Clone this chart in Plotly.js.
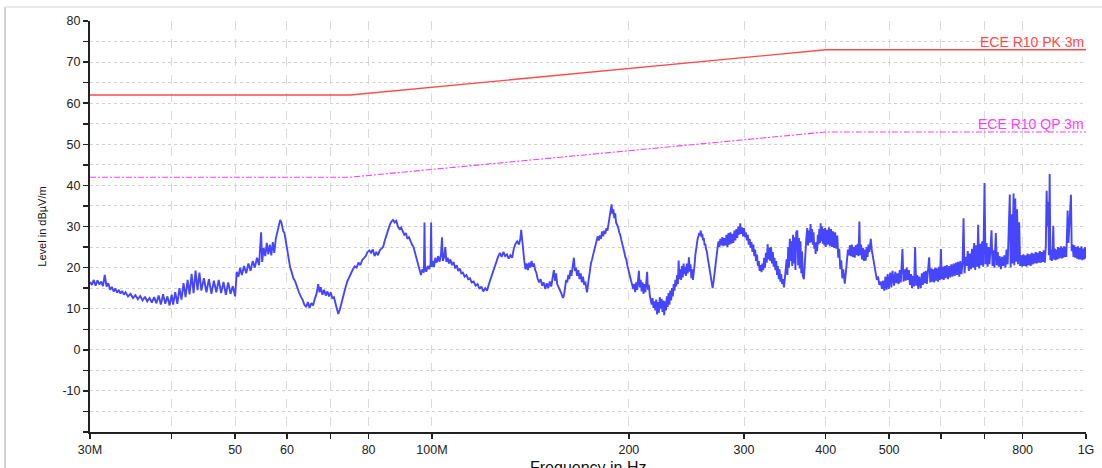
<!DOCTYPE html>
<html>
<head>
<meta charset="utf-8">
<script src="https://cdn.plot.ly/plotly-3.0.1.min.js"></script>
<style>
  html, body { margin: 0; padding: 0; background: #fff; }
  #chart { width: 1102px; height: 468px; }
</style>
</head>
<body>
<div id="chart"></div>
<script>
// ---- Data (frequency in MHz, level in dBµV/m) ----
const measFreqMHz = [
  30.0, 30.2, 30.4, 30.6, 30.8, 31.0, 31.2, 31.4, 31.6, 31.8,
  32.0, 32.2, 32.4, 32.6, 32.8, 33.0, 33.2, 33.4, 33.6, 33.8,
  34.0, 34.3, 34.6, 34.9, 35.2, 35.5, 35.8, 36.1, 36.4, 36.7,
  37.0, 37.3, 37.6, 37.9, 38.2, 38.5, 38.8, 39.1, 39.4, 39.7,
  40.0, 40.2, 40.5, 40.8, 41.1, 41.4, 41.7, 42.0, 42.3, 42.6,
  42.9, 43.2, 43.5, 43.8, 44.1, 44.4, 44.8, 45.2, 45.6, 46.0,
  46.4, 46.8, 47.2, 47.6, 48.0, 48.4, 48.8, 49.2, 49.6, 50.0,
  50.3, 50.6, 50.9, 51.2, 51.6, 52.0, 52.4, 52.8, 53.2, 53.6,
  54.0, 54.4, 54.8, 55.0, 55.3, 55.6, 55.9, 56.2, 56.5, 56.8,
  57.1, 57.4, 57.7, 58.0, 58.3, 58.6, 58.9, 59.2, 59.5, 59.8,
  60.1, 60.4, 60.7, 61.0, 61.4, 61.8, 62.2, 62.6, 63.0, 63.4,
  63.8, 64.2, 64.6, 65.0, 65.4, 65.8, 66.2, 66.6, 67.0, 67.3,
  67.6, 68.0, 68.4, 68.8, 69.2, 69.6, 70.0, 70.4, 70.8, 71.2,
  71.6, 71.9, 72.3, 72.7, 73.2, 73.7, 74.2, 74.7, 75.2, 75.7,
  76.2, 76.7, 77.2, 77.7, 78.2, 78.7, 79.2, 79.7, 80.2, 80.7,
  81.2, 81.7, 82.2, 82.7, 83.2, 83.7, 84.2, 84.7, 85.2, 85.7,
  86.2, 86.7, 87.2, 87.7, 88.2, 88.7, 89.2, 89.7, 90.2, 90.7,
  91.2, 91.7, 92.2, 92.7, 93.2, 93.7, 94.2, 94.7, 95.2, 95.7,
  96.2, 96.7, 97.2, 97.4, 97.6, 98.0, 98.5, 99.0, 99.5, 99.7,
  99.9, 100.3, 100.7, 101.2, 101.7, 102.2, 102.7, 103.2, 103.6, 103.9,
  104.4, 104.8, 105.2, 105.7, 106.2, 106.7, 107.3, 107.9, 108.5, 109.1,
  109.7, 110.3, 110.9, 111.5, 112.2, 112.9, 113.6, 114.3, 115.0, 115.8,
  116.6, 117.4, 118.2, 119.0, 119.8, 120.6, 121.4, 122.2, 123.0, 123.8,
  124.6, 125.4, 126.2, 127.0, 127.8, 128.6, 129.4, 130.2, 131.0, 131.8,
  132.6, 133.4, 134.2, 135.0, 135.8, 136.5, 136.9, 137.3, 137.8, 138.4,
  139.0, 139.6, 140.2, 140.8, 141.4, 142.0, 142.6, 143.2, 143.8, 144.4,
  145.0, 145.8, 146.6, 147.4, 148.2, 149.0, 149.8, 150.6, 151.4, 152.2,
  153.0, 153.6, 154.2, 154.8, 155.4, 156.2, 157.0, 157.8, 158.6, 159.2,
  159.8, 160.4, 161.0, 161.6, 162.2, 162.8, 163.4, 164.0, 164.8, 165.4,
  166.0, 166.7, 167.4, 168.1, 168.8, 169.5, 170.2, 170.9, 171.6, 172.3,
  172.6, 173.2, 173.8, 174.4, 175.0, 175.7, 176.4, 177.1, 177.8, 178.5,
  179.2, 179.9, 180.6, 181.3, 182.0, 182.7, 183.4, 184.1, 184.8, 185.5,
  186.2, 186.9, 187.6, 188.2, 188.8, 189.4, 190.0, 190.6, 191.2, 191.9,
  192.6, 193.3, 194.0, 194.7, 195.4, 196.1, 196.8, 197.5, 198.2, 198.9,
  199.6, 200.3, 201.0, 201.7, 202.4, 203.1, 203.8, 204.5, 205.2, 205.9,
  206.6, 207.2, 207.8, 208.5, 209.2, 209.9, 210.6, 211.3, 212.0, 212.7,
  213.3, 213.9, 214.6, 215.3, 216.0, 216.7, 217.4, 218.1, 218.8, 219.5,
  220.2, 220.9, 221.6, 222.3, 223.0, 223.7, 224.4, 225.1, 225.8, 226.5,
  227.2, 227.9, 228.6, 229.3, 230.0, 230.7, 231.4, 232.1, 232.8, 233.5,
  234.2, 234.9, 235.6, 236.3, 237.0, 237.7, 238.3, 239.0, 239.7, 240.4,
  241.1, 241.8, 242.5, 243.2, 243.9, 244.6, 245.3, 246.0, 246.7, 247.1,
  247.8, 248.5, 249.2, 249.9, 250.6, 251.3, 252.0, 252.7, 253.4, 254.1,
  254.8, 255.5, 256.2, 256.9, 257.6, 258.3, 259.0, 259.7, 260.4, 261.1,
  261.8, 262.5, 263.2, 264.0, 264.8, 265.6, 266.4, 267.2, 268.0, 268.6,
  269.4, 270.2, 271.0, 271.8, 272.6, 273.4, 274.2, 275.0, 276.0, 277.0,
  278, 279, 280, 281, 282, 283, 284, 285, 286, 287,
  288, 289, 290, 291, 292, 293, 294, 295, 296, 297,
  298, 299, 300, 301, 302, 303, 304, 305, 306, 307,
  308, 309, 310, 311, 312, 313, 314, 315, 316, 317,
  318, 319, 320, 321, 322, 323, 324, 325, 326, 327,
  328, 329, 330, 331, 332, 333, 334, 335, 336, 337,
  338, 339, 340, 341, 342, 343, 344, 345.3, 346.5, 347.5,
  348.5, 349.5, 350.5, 351.5, 352.5, 353.5, 354.5, 355.5, 356.5, 357.5,
  358.5, 359.5, 360.5, 361.9, 363, 364, 365, 366, 367, 368,
  369, 370.4, 371.5, 372.5, 373.5, 374.8, 375.8, 376.8, 377.8, 379.2,
  380.2, 381.2, 382.2, 383.2, 384.2, 385.2, 386, 387, 388, 389,
  390, 391, 392, 392.9, 394, 395, 396, 397, 398, 399,
  400, 401.5, 403, 404.5, 406, 407.5, 409, 410.5, 412, 413.5,
  415, 416.6, 418, 419.5, 421, 422.5, 424, 425.5, 427.7, 429.5,
  431, 432.5, 434, 435.5, 437, 438.5, 440, 441.5, 443, 444.5,
  446, 447.5, 449, 450.3, 451.5, 453, 454.5, 456, 457.5, 459,
  460.4, 462, 463.5, 465, 466.5, 468.7, 470.5, 472, 473.5, 475,
  477, 479, 481, 483, 485.5, 487.5, 489.5, 491.5, 493.5, 495.5,
  497.5, 499.5, 502, 504, 506, 508.8, 511, 513, 515, 517,
  519, 521, 524, 526, 528, 530, 532, 534, 536, 538,
  540, 542, 544, 546, 547.9, 550, 552, 554, 556, 558.9,
  561, 563, 565, 567, 569, 571, 573, 575.7, 578, 580,
  582, 584, 586, 588, 590, 592, 594, 596, 598, 600,
  602, 604, 606, 608, 610, 612.5, 615, 617.5, 620, 622.5,
  625, 627.5, 630, 632.5, 635, 637.5, 640, 642.5, 645, 647.5,
  649.8, 652, 654.5, 657, 659.5, 662, 664.5, 667, 669.5, 672,
  674.5, 677, 679.5, 682, 684.1, 686.5, 689, 691.5, 694, 696.5,
  699.6, 702, 704.5, 707, 709.5, 712, 714.5, 717, 719.5, 722,
  724.5, 728, 730.5, 733, 735.5, 738, 741, 744, 747, 750,
  753, 756, 759, 762, 764.7, 767, 769.5, 772, 774.8, 777,
  779.5, 782, 784.5, 787, 790.4, 793, 796, 799, 802, 805,
  808, 811, 814, 817, 820, 823, 826, 829, 832, 835,
  838, 841, 844, 847, 850, 853, 856, 859, 862, 865,
  868, 870.6, 873, 875.5, 877.5, 879.9, 882, 884.5, 887, 889,
  891.3, 893.5, 896, 898.5, 901, 903.5, 906, 908.5, 911, 913.5,
  915.6, 918, 920.5, 923, 925.5, 928, 930.5, 933, 935.5, 937.4,
  940, 943, 945.5, 948.4, 951, 954, 957, 960, 963, 966,
  969, 972, 975, 978, 981, 984, 987, 990, 993, 996,
  1000
];
const measLevel = [
  16.5, 15.8, 17.0, 15.6, 16.9, 15.9, 16.6, 15.5, 18.2, 15.4,
  16.2, 14.6, 15.3, 14.2, 14.9, 13.9, 14.6, 13.7, 14.3, 13.4,
  14.0, 13.0, 13.6, 12.6, 13.3, 12.3, 13.1, 12.0, 12.9, 11.8,
  12.6, 11.5, 12.8, 11.3, 13.2, 11.0, 13.5, 11.2, 13.0, 10.8,
  13.4, 11.0, 14.0, 11.2, 15.0, 12.2, 16.2, 12.8, 17.0, 13.5,
  18.5, 13.8, 19.3, 14.5, 18.8, 14.4, 17.4, 14.0, 17.2, 13.6,
  16.8, 14.0, 17.0, 13.8, 16.5, 13.4, 16.4, 13.6, 15.5, 13.0,
  19.0, 17.8, 20.0, 18.2, 20.4, 18.6, 21.0, 19.2, 21.6, 20.0,
  22.4, 20.6, 28.6, 21.4, 24.8, 22.8, 26.0, 23.2, 25.6, 23.0,
  26.2, 23.6, 27.0, 28.5, 30.2, 31.6, 30.8, 29.0, 28.4, 26.0,
  24.0, 22.5, 20.0, 19.0, 17.4, 16.6, 15.0, 14.0, 13.0, 12.2,
  11.0, 10.4, 11.6, 10.2, 11.4, 10.8, 12.4, 13.6, 16.0, 14.0,
  15.2, 13.4, 14.6, 13.2, 14.2, 13.0, 14.0, 12.6, 12.8, 11.0,
  9.6, 8.7, 9.8, 11.5, 13.5, 15.0, 16.6, 17.6, 18.8, 19.6,
  20.3, 20.0, 21.2, 20.6, 21.8, 22.2, 22.8, 23.8, 24.2, 23.6,
  24.4, 22.8, 23.8, 23.0, 24.2, 24.6, 25.0, 26.6, 28.0, 29.6,
  30.4, 31.2, 31.6, 31.0, 31.4, 30.0, 29.4, 29.8, 28.6, 28.0,
  28.4, 27.0, 27.4, 26.2, 25.6, 25.0, 23.6, 22.0, 20.4, 19.2,
  18.2, 19.6, 18.8, 31.0, 19.8, 19.0, 20.4, 19.6, 20.8, 31.0,
  20.2, 21.6, 20.2, 22.4, 21.2, 22.8, 21.4, 23.0, 27.4, 21.6,
  22.6, 25.0, 21.4, 22.4, 21.0, 22.0, 20.6, 21.4, 19.8, 20.6,
  19.2, 19.8, 18.6, 18.8, 17.8, 18.2, 17.2, 17.4, 16.4, 16.6,
  15.6, 16.0, 14.8, 15.4, 14.2, 15.0, 14.4, 16.0, 17.4, 19.0,
  20.2, 21.6, 22.6, 23.6, 22.6, 23.8, 22.8, 23.2, 22.2, 23.0,
  22.4, 24.6, 25.8, 26.4, 25.6, 27.0, 29.2, 27.2, 24.0, 21.6,
  19.6, 21.0, 19.4, 21.2, 20.0, 21.6, 20.2, 21.0, 19.4, 18.8,
  17.4, 16.4, 17.2, 15.6, 16.4, 14.8, 16.2, 15.0, 16.6, 15.4,
  17.8, 19.4, 16.8, 18.6, 16.0, 15.0, 14.4, 13.6, 12.6, 13.4,
  15.2, 17.0, 16.4, 18.2, 17.2, 19.4, 18.0, 20.6, 22.4, 19.2,
  20.0, 18.0, 19.4, 17.2, 18.6, 16.4, 17.8, 15.8, 16.6, 14.6,
  14.0, 15.8, 17.8, 19.6, 21.0, 22.0, 23.0, 24.2, 25.4, 26.4,
  27.6, 26.6, 27.8, 27.0, 28.8, 27.6, 29.0, 28.2, 29.6, 29.0,
  30.8, 32.0, 33.6, 35.4, 33.0, 34.2, 32.0, 33.2, 31.0, 30.4,
  29.8, 28.6, 28.0, 26.8, 26.0, 24.6, 23.8, 22.6, 22.0, 20.6,
  19.8, 18.6, 17.6, 16.6, 15.6, 14.8, 16.0, 14.0, 16.4, 14.6,
  17.0, 19.2, 15.2, 17.0, 14.2, 16.4, 13.6, 16.0, 14.0, 16.8,
  19.0, 14.6, 15.8, 13.2, 12.4, 11.0, 12.6, 10.2, 11.8, 9.6,
  12.2, 8.6, 11.6, 9.0, 12.8, 10.0, 12.4, 9.2, 12.0, 8.4,
  11.8, 9.6, 13.0, 10.4, 13.8, 11.0, 14.4, 12.0, 15.0, 13.0,
  16.0, 14.4, 17.0, 15.4, 18.2, 16.0, 21.7, 17.2, 19.6, 17.0,
  20.4, 17.6, 21.0, 18.4, 20.2, 18.0, 21.0, 18.6, 20.6, 22.5,
  19.0, 20.8, 17.4, 19.6, 17.0, 18.4, 20.4, 23.0, 24.6, 26.0,
  27.0, 27.6, 28.4, 27.8, 29.0, 27.4, 28.2, 26.6, 27.2, 25.4,
  25.8, 24.4, 24.0, 22.4, 21.4, 19.8, 18.6, 17.2, 16.0, 15.0,
  16.4, 18.4, 20.0, 22.0, 23.6, 25.0, 26.4, 25.0, 27.0, 25.4,
  27.4, 25.2, 27.2, 25.4, 28.0, 25.0, 28.4, 25.6, 28.6, 25.8,
  28.2, 26.0, 29.0, 26.6, 29.4, 27.2, 30.0, 28.0, 30.8, 28.2,
  29.8, 27.6, 29.6, 27.4, 28.6, 26.6, 28.0, 25.6, 27.0, 24.8,
  26.2, 23.8, 25.6, 22.8, 24.4, 21.6, 23.2, 20.4, 21.6, 19.2,
  20.6, 18.9, 21.0, 19.4, 22.4, 20.0, 23.6, 21.2, 25.7, 22.0,
  24.8, 21.6, 25.0, 21.0, 23.8, 20.2, 22.4, 19.4, 21.6, 18.2,
  20.4, 17.2, 19.6, 16.6, 18.4, 16.0, 17.2, 15.2, 17.6, 19.4,
  22.0, 18.2, 25.0, 20.0, 27.0, 21.6, 26.4, 20.4, 28.0, 21.0,
  27.4, 19.4, 28.6, 29.0, 20.6, 27.2, 19.8, 26.4, 18.6, 24.0,
  18.0, 17.2, 22.0, 25.4, 27.0, 29.6, 25.4, 29.0, 26.0, 30.6,
  26.2, 29.4, 25.6, 28.6, 24.6, 26.0, 23.3, 26.2, 24.0, 28.0,
  25.6, 29.4, 26.0, 30.8, 26.4, 30.0, 25.8, 29.4, 25.4, 29.6,
  25.0, 29.2, 25.6, 29.8, 25.2, 29.4, 25.0, 28.8, 24.8, 28.6,
  24.6, 27.8, 22.4, 24.6, 19.6, 21.8, 17.4, 19.6, 16.1, 19.0,
  22.0, 24.4, 23.0, 25.4, 22.8, 25.6, 22.6, 25.0, 22.4, 25.4,
  23.0, 25.8, 22.8, 31.2, 23.0, 25.6, 22.0, 24.8, 21.6, 24.4,
  21.7, 25.0, 22.6, 25.6, 23.8, 27.0, 24.2, 22.6, 21.0, 19.6,
  18.6, 17.0, 17.8, 15.8, 16.6, 14.8, 16.8, 14.4, 17.8, 14.6,
  18.4, 14.8, 18.8, 15.2, 19.2, 15.6, 19.0, 16.2, 18.6, 16.0,
  19.4, 16.4, 24.5, 16.6, 19.6, 16.8, 20.0, 17.0, 19.4, 15.8,
  18.4, 15.0, 18.0, 15.4, 25.0, 15.6, 18.2, 14.8, 17.8, 15.0,
  18.6, 15.8, 19.0, 16.2, 19.2, 16.0, 19.4, 22.5, 16.4, 19.8,
  16.6, 19.6, 16.4, 20.0, 16.8, 19.8, 16.6, 20.2, 17.0, 24.5,
  17.2, 20.2, 17.0, 20.4, 17.4, 20.6, 17.2, 20.4, 17.6, 20.8,
  17.8, 21.0, 18.0, 21.2, 18.2, 21.4, 17.8, 21.6, 18.4, 21.2,
  32.0, 18.6, 22.6, 20.4, 24.0, 19.2, 23.4, 19.6, 24.6, 20.0,
  26.0, 19.4, 25.4, 20.2, 30.4, 19.8, 25.8, 20.6, 26.4, 20.2,
  40.6, 20.8, 26.0, 20.2, 25.0, 20.8, 24.6, 29.1, 20.4, 24.2,
  20.0, 28.4, 20.6, 23.8, 20.2, 22.8, 19.6, 22.6, 20.4, 23.0,
  20.0, 24.4, 20.8, 30.0, 37.8, 20.0, 33.0, 21.0, 38.0, 20.6,
  36.8, 21.4, 34.2, 20.8, 31.0, 20.4, 23.0, 20.2, 23.2, 20.4,
  23.0, 20.2, 23.4, 20.6, 23.2, 20.4, 23.6, 20.8, 23.4, 21.0,
  23.8, 21.0, 23.6, 21.2, 24.0, 21.2, 23.8, 21.4, 24.2, 21.2,
  25.0, 38.7, 30.0, 36.0, 23.0, 42.8, 21.8, 24.4, 21.6, 24.6,
  30.2, 22.0, 24.6, 21.8, 24.4, 22.0, 25.0, 22.2, 24.8, 22.4,
  25.2, 22.2, 24.8, 22.4, 25.2, 22.6, 25.0, 22.6, 28.0, 33.9,
  26.0, 30.0, 34.0, 37.7, 24.0, 25.6, 22.6, 25.4, 22.4, 25.0,
  22.2, 25.2, 22.0, 24.8, 22.0, 25.2, 21.8, 24.6, 22.0, 25.0,
  22.2
];

// Limit lines (ECE R10, 3 m)
const limitFreqMHz = [30, 75, 400, 1000];
const pkLimit = [62, 62, 73, 73];
const qpLimit = [42, 42, 53, 53];
const limitNames = ['ECE R10 PK 3m', 'ECE R10 QP 3m'];

// Axis ticks and titles
const xTickVals = [30, 40, 50, 60, 70, 80, 100, 200, 300, 400, 500, 600, 700, 800, 1000];
const xTickText = ['30M', '', '50', '60', '', '80', '100M', '200', '300', '400', '500', '', '', '800', '1G'];
const yTickVals = [-20, -15, -10, -5, 0, 5, 10, 15, 20, 25, 30, 35, 40, 45, 50, 55, 60, 65, 70, 75, 80];
const yTickText = ['', '', '-10', '', '0', '', '10', '', '20', '', '30', '', '40', '', '50', '', '60', '', '70', '', '80'];
const xTitle = 'Frequency in Hz';
const yTitle = 'Level in dBµV/m';

const FONT = 'Liberation Sans, Arial, Helvetica, sans-serif';
const PK_COLOR = '#ff4a4a';
const QP_COLOR = '#ff3cff';

const traces = [
  {
    x: measFreqMHz, y: measLevel, type: 'scatter', mode: 'lines',
    line: { color: '#4646ff', width: 1.9 }, hoverinfo: 'skip'
  },
  {
    x: limitFreqMHz, y: pkLimit, type: 'scatter', mode: 'lines',
    line: { color: PK_COLOR, width: 1.3 }, hoverinfo: 'skip'
  },
  {
    x: limitFreqMHz, y: qpLimit, type: 'scatter', mode: 'lines',
    line: { color: QP_COLOR, width: 1.1, dash: '6px,2px,2px,2px' }, hoverinfo: 'skip'
  }
];

const W = 1102, H = 468, L = 90, R = 16, T = 21, B = 36;
const pw = W - L - R, ph = H - T - B;
const px = v => (v - L) / pw;
const py = v => (H - B - v) / ph;

const layout = {
  width: W, height: H,
  margin: { l: L, r: R, t: T, b: B },
  paper_bgcolor: '#ffffff', plot_bgcolor: '#ffffff',
  showlegend: false,
  font: { family: FONT, color: '#222' },
  xaxis: {
    type: 'log', range: [Math.log10(30), 3],
    tickmode: 'array', tickvals: xTickVals, ticktext: xTickText,
    ticks: 'outside', ticklen: 5, tickwidth: 1.5, tickcolor: '#222',
    showline: true, linecolor: '#222', linewidth: 2,
    showgrid: true, gridcolor: '#dadada', gridwidth: 1, griddash: 'dash',
    zeroline: false, automargin: false,
    tickfont: { family: FONT, size: 12.5, color: '#222' }
  },
  yaxis: {
    range: [-20, 80],
    tickmode: 'array', tickvals: yTickVals, ticktext: yTickText,
    ticks: 'outside', ticklen: 5, tickwidth: 1.5, tickcolor: '#222',
    showline: true, linecolor: '#222', linewidth: 2,
    showgrid: true, gridcolor: '#d2d2d2', gridwidth: 1, griddash: 'dot',
    zeroline: false, automargin: false,
    tickfont: { family: FONT, size: 12.5, color: '#222' },
    title: { text: yTitle, font: { family: FONT, size: 11, color: '#111' }, standoff: 14 }
  },
  annotations: [
    {
      x: 3, y: pkLimit[3], xref: 'x', yref: 'y', xanchor: 'right', yanchor: 'bottom',
      text: limitNames[0], showarrow: false, font: { family: FONT, size: 14, color: PK_COLOR }, yshift: -2
    },
    {
      x: 3, y: qpLimit[3], xref: 'x', yref: 'y', xanchor: 'right', yanchor: 'bottom',
      text: limitNames[1], showarrow: false, font: { family: FONT, size: 14, color: QP_COLOR }, yshift: -2
    },
    {
      x: 0.5, y: py(457), xref: 'paper', yref: 'paper', xanchor: 'center', yanchor: 'top',
      text: xTitle, showarrow: false, font: { family: FONT, size: 16, color: '#111' }
    }
  ],
  shapes: [
    { type: 'line', xref: 'paper', yref: 'paper', x0: px(5), x1: px(5), y0: py(H), y1: py(7),
      line: { color: '#c4c4c4', width: 1.5 } },
    { type: 'line', xref: 'paper', yref: 'paper', x0: px(5), x1: px(W), y0: py(7), y1: py(7),
      line: { color: '#e4e4e4', width: 1.5 } }
  ]
};

Plotly.newPlot('chart', traces, layout, { staticPlot: true, displayModeBar: false });
</script>
</body>
</html>
